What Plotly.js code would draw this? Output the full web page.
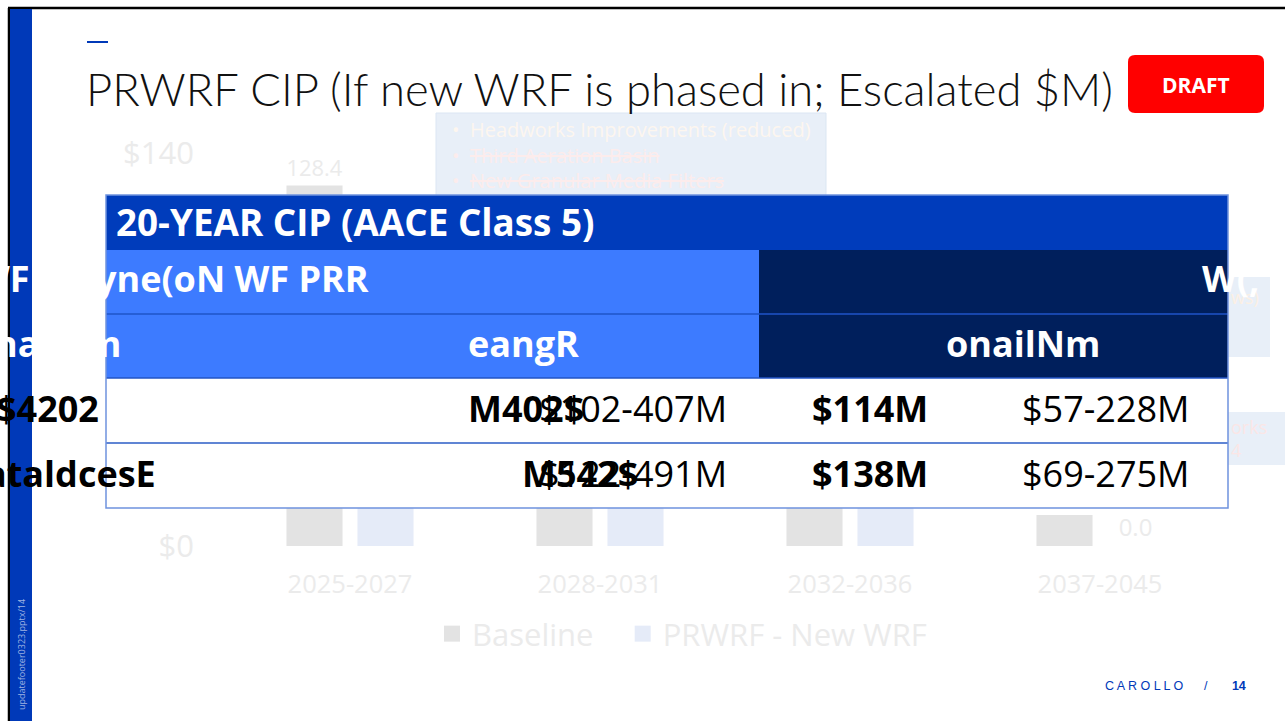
<!DOCTYPE html>
<html>
<head>
<meta charset="utf-8">
<script src="https://cdn.plot.ly/plotly-3.0.1.min.js"></script>
<style>html,body{margin:0;padding:0;background:#fff;}#chart{width:1285px;height:721px;}</style>
</head>
<body>
<div id="chart"></div>
<script>
// ---- data ----
var categories = ['2025-2027', '2028-2031', '2032-2036', '2037-2045'];
var baselineValues = [128.4, 62.0, 44.0, 11.0];
var newWrfValues = [50.0, 46.0, 42.0, 0.0];
var seriesNames = ['Baseline', 'PRWRF - New WRF'];
var seriesColors = ['#e3e3e3', '#e5ebf8'];
var yTickVals = [0, 20, 40, 60, 80, 100, 120, 140];
var yTickText = ['$0', '$20', '$40', '$60', '$80', '$100', '$120', '$140'];

var W = 1285, H = 721;
function px(x) { return x / W; }
function py(y) { return 1 - y / H; }

var FONT = 'Open Sans, Noto Sans, sans-serif';
var FAINT = '#ebebeb';
var NB = '\u00a0\u00a0\u00a0';

var traces = [
  {
    type: 'bar', name: seriesNames[0], x: categories, y: baselineValues,
    marker: {color: seriesColors[0]}, showlegend: false,
    texttemplate: '%{y:.1f}', textposition: 'outside', cliponaxis: false,
    textfont: {size: 24, color: FAINT, family: FONT}
  },
  {
    type: 'bar', name: seriesNames[1], x: categories, y: newWrfValues,
    marker: {color: seriesColors[1]}, showlegend: false,
    texttemplate: '%{y:.1f}', textposition: 'outside', cliponaxis: false,
    textfont: {size: 24, color: FAINT, family: FONT}
  },
  // legend-only entries with a larger square key
  {type: 'scatter', mode: 'markers', name: seriesNames[0] + NB, x: [null], y: [null],
   marker: {symbol: 'square', size: 18, color: seriesColors[0]}},
  {type: 'scatter', mode: 'markers', name: seriesNames[1], x: [null], y: [null],
   marker: {symbol: 'square', size: 18, color: seriesColors[1]}}
];

function rect(x0, y0, x1, y1, fill, line, lw) {
  return {type: 'rect', xref: 'paper', yref: 'paper', layer: 'above',
    x0: px(x0), x1: px(x1), y0: py(y0), y1: py(y1),
    fillcolor: fill, line: {color: line || 'rgba(0,0,0,0)', width: lw || 0}};
}
function hline(x0, x1, y, color, w) {
  return {type: 'line', xref: 'paper', yref: 'paper', layer: 'above',
    x0: px(x0), x1: px(x1), y0: py(y), y1: py(y), line: {color: color, width: w}};
}
function roundRect(x0, y0, x1, y1, r, fill) {
  var X0 = px(x0), X1 = px(x1), Y0 = py(y1), Y1 = py(y0);
  var rx = r / W, ry = r / H;
  var p = 'M' + (X0 + rx) + ',' + Y0 + ' L' + (X1 - rx) + ',' + Y0 +
    ' Q' + X1 + ',' + Y0 + ' ' + X1 + ',' + (Y0 + ry) +
    ' L' + X1 + ',' + (Y1 - ry) + ' Q' + X1 + ',' + Y1 + ' ' + (X1 - rx) + ',' + Y1 +
    ' L' + (X0 + rx) + ',' + Y1 + ' Q' + X0 + ',' + Y1 + ' ' + X0 + ',' + (Y1 - ry) +
    ' L' + X0 + ',' + (Y0 + ry) + ' Q' + X0 + ',' + Y0 + ' ' + (X0 + rx) + ',' + Y0 + ' Z';
  return {type: 'path', xref: 'paper', yref: 'paper', layer: 'above', path: p,
    fillcolor: fill, line: {width: 0}};
}

var shapes = [
  // slide frame
  hline(8, 1285, 8, '#000000', 2.5),
  {type: 'line', xref: 'paper', yref: 'paper', layer: 'above', x0: px(9), x1: px(9), y0: py(8), y1: py(721), line: {color: '#000', width: 2.5}},
  rect(10, 9, 32, 721, '#0039b8'),
  hline(87, 108, 42, '#0039b8', 2),
  roundRect(1128, 55, 1264, 113, 7, '#ff0000'),
  // callout boxes (behind table)
  rect(436, 113, 826, 200, '#e8eff8', '#dbe6f3', 1),
  rect(1228, 277, 1270, 357, '#e8eff8'),
  rect(1228, 412, 1285, 465, '#e8eff8'),
  // table
  rect(106, 195, 1228, 250, '#003cbb'),
  rect(106, 250, 759, 378, '#3d7bff'),
  rect(759, 250, 1228, 378, '#001f5c'),
  rect(106, 378, 1228, 508, '#ffffff'),
  hline(106, 1228, 314, '#1f55c9', 1.5),
  hline(106, 1228, 378, '#2354c4', 1.5),
  hline(106, 1228, 443, '#2b5cc6', 1.5),
  rect(106, 195, 1228, 508, 'rgba(0,0,0,0)', '#6f93de', 1.5)
];

function ann(text, x, y, opts) {
  opts = opts || {};
  return {text: text, xref: 'paper', yref: 'paper', x: px(x), y: py(y),
    xanchor: opts.xa || 'left', yanchor: 'middle', showarrow: false,
    textangle: opts.angle || 0,
    font: {family: opts.family || FONT, size: opts.size || 30, color: opts.color || '#000',
      weight: opts.weight || 'normal'}};
}

var WH = '#ffffff';
var TS = 36;
var annotations = [
  ann('PRWRF CIP (If new WRF is phased in; Escalated $M)', 84, 89, {size: 45.4, color: '#111111', weight: 300, family: 'Lato, Open Sans, sans-serif'}),
  ann('DRAFT', 1196, 85, {xa: 'center', size: 21, color: WH, weight: 'bold'}),
  // callout text
  ann('•  Headworks Improvements (reduced)', 450, 129, {size: 20, color: '#fdf6ef'}),
  ann('•  <s>Third Aeration Basin</s>', 450, 155, {size: 20, color: '#fcecec'}),
  ann('•  <s>New Granular Media Filters</s>', 450, 180, {size: 20, color: '#fcecec'}),
  ann('ws)', 1229, 297, {size: 18, color: '#fcf0e4'}),
  ann('orks', 1229, 427, {size: 18, color: '#fbe6e6'}),
  ann('4', 1229, 450, {size: 18, color: '#fbe6e6'}),
  // table text
  ann('20-YEAR CIP (AACE Class 5)', 114, 222, {size: 36.8, color: WH, weight: 'bold'}),
  ann('WF', 32, 278, {xa: 'right', size: TS, color: WH, weight: 'bold'}),
  ann('yne(oN WF PRR', 371, 278, {xa: 'right', size: TS, color: WH, weight: 'bold'}),
  ann('W(,', 1200, 278, {size: TS, color: WH, weight: 'bold'}),
  ann('ha', 41, 343, {xa: 'right', size: TS, color: WH, weight: 'bold'}),
  ann('m', 123, 343, {xa: 'right', size: TS, color: WH, weight: 'bold'}),
  ann('eangR', 466, 343, {size: TS, color: WH, weight: 'bold'}),
  ann('onailNm', 1023, 343, {xa: 'center', size: TS, color: WH, weight: 'bold'}),
  ann('$4202', 101, 408, {xa: 'right', size: TS, weight: 'bold'}),
  ann('M402$', 466, 408, {size: TS, weight: 'bold'}),
  ann('$102-407M', 729, 408, {xa: 'right', size: TS}),
  ann('$114M', 810, 408, {size: TS, weight: 'bold'}),
  ann('$57-228M', 1020, 408, {size: TS}),
  ann('ataldcesE', 158, 473, {xa: 'right', size: TS, weight: 'bold'}),
  ann('$122-491M', 729, 473, {xa: 'right', size: TS}),
  ann('M542$', 520, 473, {size: TS, weight: 'bold'}),
  ann('$138M', 810, 473, {size: TS, weight: 'bold'}),
  ann('$69-275M', 1020, 473, {size: TS}),
  // footer
  ann('C A R O L L O      /       <b>14</b>', 1248, 686, {xa: 'right', size: 12.5, color: '#0039b8', family: 'Liberation Sans, Arial, sans-serif'}),
  ann('updatefooter0323.pptx/14', 21, 655, {xa: 'center', size: 9, color: '#9fb3e2', angle: -90})
];

var layout = {
  width: W, height: H,
  margin: {l: 0, r: 0, t: 0, b: 0},
  paper_bgcolor: '#ffffff', plot_bgcolor: 'rgba(0,0,0,0)',
  font: {family: FONT, color: FAINT},
  barmode: 'group', bargap: 0.432, bargroupgap: 0.21,
  showlegend: true,
  legend: {orientation: 'h', x: px(682), xanchor: 'center', y: py(634), yanchor: 'middle',
    font: {size: 31, color: FAINT, family: FONT}, itemwidth: 30, tracegroupgap: 0},
  xaxis: {
    domain: [px(225), px(1225)], type: 'category',
    showgrid: false, zeroline: false, showline: false, ticks: '',
    tickfont: {size: 25.5, color: FAINT, family: FONT}, ticklabelstandoff: 20
  },
  yaxis: {
    domain: [py(546), py(153)], range: [0, 140],
    tickvals: yTickVals, ticktext: yTickText,
    showgrid: true, gridcolor: '#f5f5f5', gridwidth: 1, zeroline: false, showline: false,
    tickfont: {size: 31, color: FAINT, family: FONT}, ticklabelstandoff: 30
  },
  shapes: shapes,
  annotations: annotations
};

Plotly.newPlot('chart', traces, layout, {displayModeBar: false, staticPlot: true});
</script>
</body>
</html>
